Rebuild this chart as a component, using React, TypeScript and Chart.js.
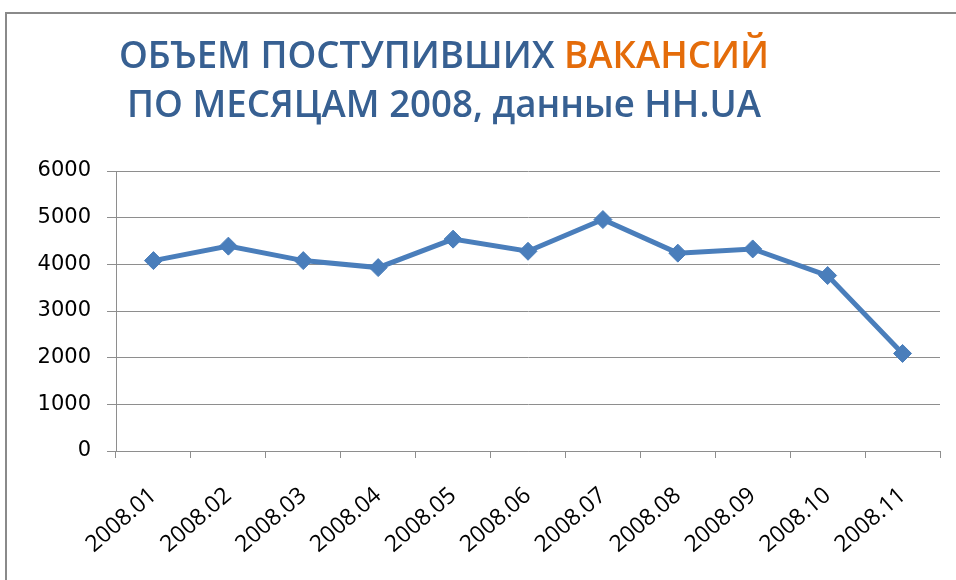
import React, { useEffect, useRef } from "react";
import { Chart, registerables } from "chart.js";

Chart.register(...registerables);

const categories = [
  "2008.01", "2008.02", "2008.03", "2008.04", "2008.05", "2008.06",
  "2008.07", "2008.08", "2008.09", "2008.10", "2008.11",
];
const vacancies = [4080, 4390, 4080, 3930, 4540, 4280, 4960, 4240, 4330, 3760, 2090];
const yMin = 0;
const yMax = 6000;
const yStep = 1000;

const titleLine1 = "ОБЪЕМ ПОСТУПИВШИХ ";
const titleHighlight = "ВАКАНСИЙ";
const titleLine2 = "ПО МЕСЯЦАМ 2008, данные HH.UA";

export default function App() {
  const canvasRef = useRef<HTMLCanvasElement | null>(null);

  useEffect(() => {
    const canvas = canvasRef.current;
    if (!canvas) return;
    const chart = new Chart(canvas, {
      type: "line",
      data: {
        labels: categories,
        datasets: [
          {
            data: vacancies,
            borderColor: "#4a7ebb",
            backgroundColor: "#4a7ebb",
            borderWidth: 5,
            pointStyle: "rectRot",
            pointRadius: 9,
            pointBackgroundColor: "#4a7ebb",
            pointBorderColor: "#4a7ebb",
            pointBorderWidth: 1,
            tension: 0,
          },
        ],
      },
      options: {
        animation: false,
        responsive: false,
        maintainAspectRatio: false,
        layout: { padding: { left: 0, top: 171, right: 16, bottom: 0 } },
        plugins: {
          legend: { display: false },
          tooltip: { enabled: false },
          title: { display: false },
        },
        scales: {
          x: {
            offset: true,
            grid: {
              offset: true,
              drawOnChartArea: false,
              drawTicks: true,
              tickLength: 7,
              color: "#8e8e8e",
            },
            border: { color: "#8e8e8e" },
            ticks: {
              autoSkip: false,
              minRotation: 41,
              maxRotation: 41,
              padding: 24,
              color: "#000000",
              font: { family: "Open Sans", size: 23 },
            },
            afterFit: (s: any) => {
              s.height = 129;
            },
          },
          y: {
            min: yMin,
            max: yMax,
            ticks: {
              stepSize: yStep,
              padding: 16,
              color: "#000000",
              font: { family: "DejaVu Sans", size: 21 },
              callback: (v: any) => String(v),
            },
            grid: { color: "#8e8e8e", tickLength: 9 },
            border: { color: "#8e8e8e" },
            afterFit: (s: any) => {
              s.width = 116;
            },
          },
        },
      },
    });
    return () => chart.destroy();
  }, []);

  return (
    <div
      style={{
        position: "fixed",
        left: 0,
        top: 0,
        width: 956,
        height: 580,
        overflow: "hidden",
        background: "#ffffff",
      }}
    >
      <div
        style={{
          position: "absolute",
          left: 5,
          top: 12,
          width: 1000,
          height: 700,
          border: "2px solid #8a8a8a",
          boxSizing: "border-box",
        }}
      />
      <canvas
        ref={canvasRef}
        width={956}
        height={580}
        style={{ position: "absolute", left: 0, top: 0, display: "block" }}
      />
      <div
        style={{
          position: "absolute",
          left: 0,
          top: 29,
          width: 888,
          textAlign: "center",
          fontFamily: "'Open Sans', sans-serif",
          fontWeight: 600,
          fontSize: 38,
          lineHeight: "49px",
          color: "#376092",
          whiteSpace: "nowrap",
          transform: "scaleX(0.965)",
          transformOrigin: "444px 0",
        }}
      >
        <div>
          {titleLine1}
          <span style={{ color: "#e46c0a" }}>{titleHighlight}</span>
        </div>
        <div>{titleLine2}</div>
      </div>
    </div>
  );
}
